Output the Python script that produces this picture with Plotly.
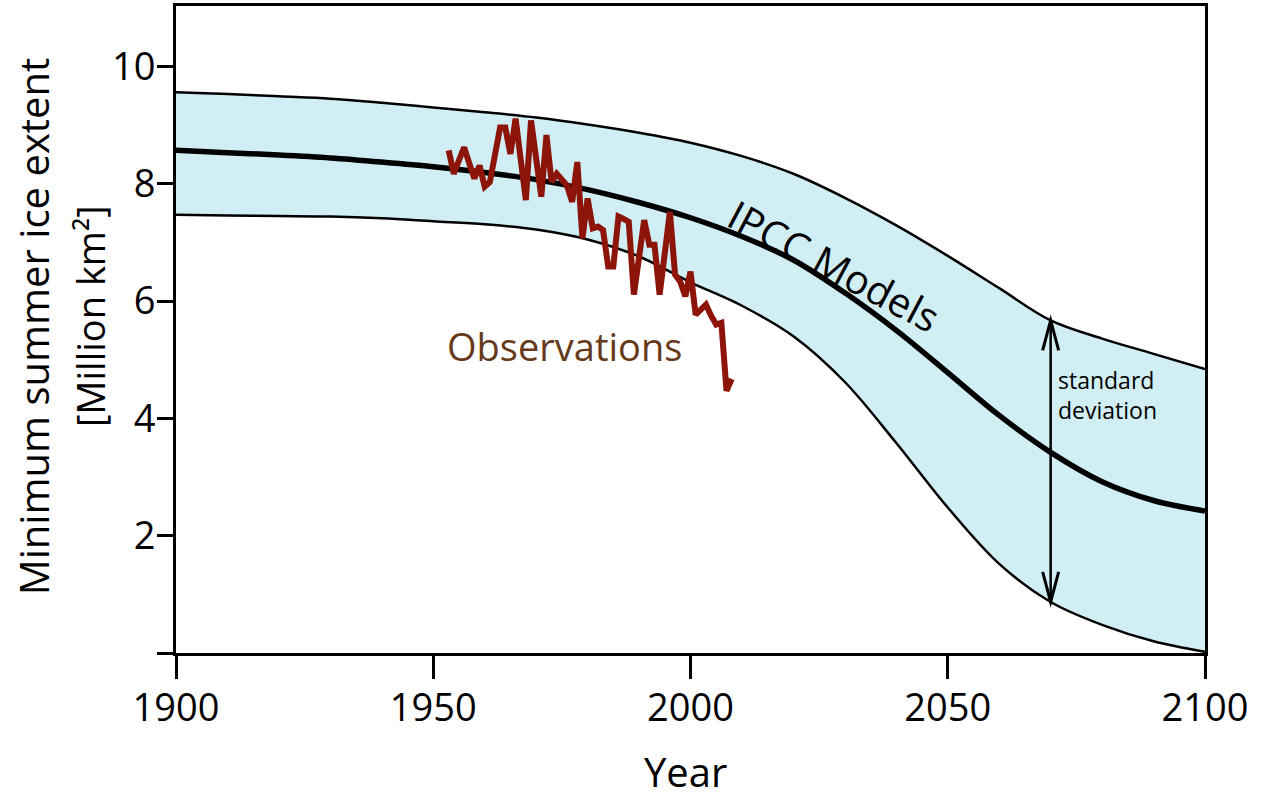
import plotly.graph_objects as go

# ---------------- data ----------------
model_years = [1900, 1910, 1920, 1930, 1940, 1950, 1960, 1970, 1980, 1990, 2000,
               2010, 2020, 2030, 2040, 2050, 2060, 2070, 2080, 2090, 2100]
model_mean = [8.57, 8.53, 8.49, 8.44, 8.37, 8.29, 8.19, 8.07, 7.90, 7.68, 7.42,
              7.10, 6.70, 6.14, 5.50, 4.78, 4.05, 3.42, 2.92, 2.60, 2.42]
model_upper = [9.56, 9.53, 9.49, 9.45, 9.38, 9.30, 9.22, 9.13, 9.01, 8.87, 8.70,
               8.47, 8.17, 7.76, 7.29, 6.77, 6.22, 5.67, 5.36, 5.10, 4.84]
model_lower = [7.47, 7.46, 7.45, 7.44, 7.41, 7.36, 7.31, 7.22, 7.05, 6.76, 6.32,
               5.92, 5.40, 4.62, 3.58, 2.48, 1.52, 0.87, 0.48, 0.20, 0.02]

obs_years = list(range(1953, 2009))
obs_values = [8.57, 8.17, 8.40, 8.62, 8.35, 8.09, 8.31, 7.95, 8.03, 8.50,
              8.96, 8.96, 8.51, 9.11, 8.40, 7.72, 9.08, 8.40, 7.78, 8.83,
              8.03, 8.17, 8.07, 7.97, 7.69, 8.37, 7.07, 7.75, 7.24, 7.27,
              7.21, 6.59, 6.59, 7.44, 7.40, 7.35, 6.11, 6.75, 7.38, 6.96,
              6.96, 6.11, 6.80, 7.52, 6.45, 6.33, 6.08, 6.50, 5.77, 5.85,
              5.94, 5.75, 5.60, 5.63, 4.47, 4.67]

x_tick_vals = [1900, 1950, 2000, 2050, 2100]
x_tick_text = ["1900", "1950", "2000", "2050", "2100"]
y_tick_vals = [0, 2, 4, 6, 8, 10]
y_tick_text = ["", "2", "4", "6", "8", "10"]

arrow_year = 2070

# ---------------- styling ----------------
FONT = "Open Sans"
BAND = "#d1eef4"
OBS = "#8c1409"
OBS_TEXT = "#66391a"

fig = go.Figure()

fig.add_trace(go.Scatter(x=model_years, y=model_lower, mode="lines",
                         line=dict(color="black", width=2.5, shape="spline"),
                         hoverinfo="skip", showlegend=False))
fig.add_trace(go.Scatter(x=model_years, y=model_upper, mode="lines",
                         line=dict(color="black", width=2.5, shape="spline"),
                         fill="tonexty", fillcolor=BAND,
                         hoverinfo="skip", showlegend=False))
fig.add_trace(go.Scatter(x=model_years, y=model_mean, mode="lines",
                         line=dict(color="black", width=5.5, shape="spline"),
                         hoverinfo="skip", showlegend=False))
fig.add_trace(go.Scatter(x=obs_years, y=obs_values, mode="lines",
                         line=dict(color=OBS, width=6),
                         hoverinfo="skip", showlegend=False))

# standard deviation double arrow
ai = model_years.index(arrow_year)
y_top = model_upper[ai]
y_bot = model_lower[ai]
fig.add_shape(type="line", x0=arrow_year, x1=arrow_year, y0=y_bot, y1=y_top,
              xref="x", yref="y", line=dict(color="black", width=2.5))
fig.add_shape(type="path", xref="x", yref="y", xsizemode="pixel", ysizemode="pixel",
              xanchor=arrow_year, yanchor=y_top,
              path="M-8,-30 L0,0 L8,-30", line=dict(color="black", width=3))
fig.add_shape(type="path", xref="x", yref="y", xsizemode="pixel", ysizemode="pixel",
              xanchor=arrow_year, yanchor=y_bot,
              path="M-8,30 L0,0 L8,30", line=dict(color="black", width=3))

annotations = [
    dict(text="Observations", x=1975.6, y=5.23, xref="x", yref="y",
         showarrow=False, font=dict(family=FONT, size=38, color=OBS_TEXT)),
    dict(text="IPCC Models", x=2027.9, y=6.60, xref="x", yref="y", textangle=28,
         showarrow=False, font=dict(family=FONT, size=40, color="black")),
    dict(text="standard<br>deviation", x=2071.0, y=4.40, xref="x", yref="y",
         xanchor="left", yanchor="middle", align="left",
         showarrow=False, font=dict(family=FONT, size=23, color="black")),
    dict(text="Minimum summer ice extent", x=-0.139, y=0.505, xref="paper", yref="paper",
         textangle=-90, showarrow=False, xanchor="center", yanchor="middle",
         font=dict(family=FONT, size=40, color="black")),
    dict(text="[Million km²]", x=-0.084, y=0.52, xref="paper", yref="paper",
         textangle=-90, showarrow=False, xanchor="center", yanchor="middle",
         font=dict(family=FONT, size=38, color="black")),
    dict(text="Year", x=0.4947, y=-0.2285, xref="paper", yref="paper",
         showarrow=False, xanchor="center", yanchor="bottom",
         font=dict(family=FONT, size=40, color="black")),
]

fig.update_layout(
    width=1264, height=802,
    margin=dict(l=176, r=59, t=3, b=149, pad=0),
    paper_bgcolor="white", plot_bgcolor="white",
    showlegend=False,
    annotations=annotations,
    xaxis=dict(range=[1900, 2100], tickvals=x_tick_vals, ticktext=x_tick_text,
               ticks="outside", ticklen=23, tickwidth=2.5, tickcolor="black",
               showline=True, linewidth=3, linecolor="black", mirror=True,
               showgrid=False, zeroline=False, ticklabelstandoff=-4,
               tickfont=dict(family=FONT, size=38, color="black")),
    yaxis=dict(range=[0, 11.03], tickvals=y_tick_vals, ticktext=y_tick_text,
               ticks="outside", ticklen=16, tickwidth=2.5, tickcolor="black",
               showline=True, linewidth=3, linecolor="black", mirror=True,
               showgrid=False, zeroline=False, ticklabelstandoff=-6,
               tickfont=dict(family=FONT, size=38, color="black")),
)

fig.write_html("out.html", config={"displayModeBar": False},
               post_script="document.body.style.margin='0';document.body.style.overflow='hidden';")
